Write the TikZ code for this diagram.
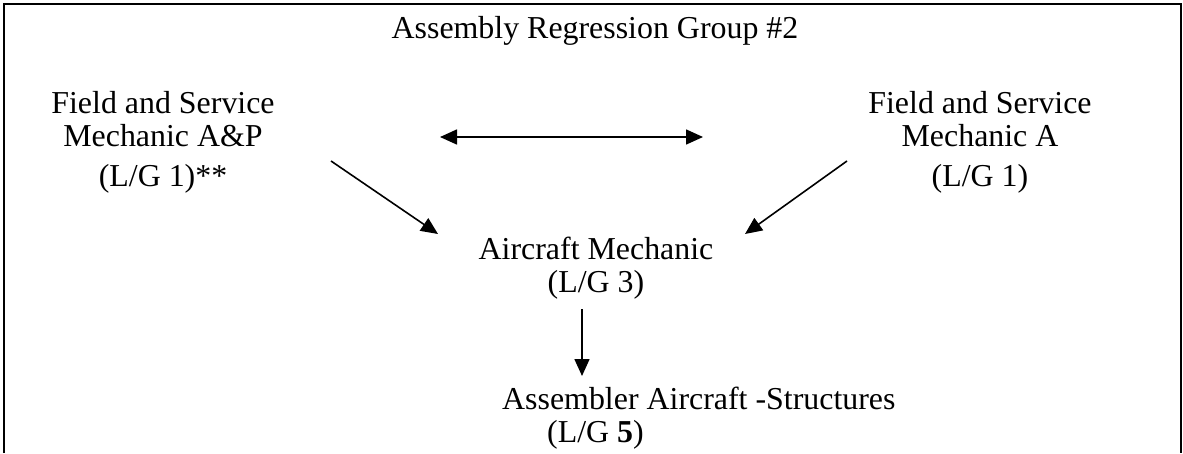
\documentclass[tikz,border=0pt]{standalone}
\usepackage{fontspec}
\setmainfont{Liberation Serif}
\usetikzlibrary{arrows.meta}
\begin{document}
\begin{tikzpicture}[x=1pt,y=-1pt,
  lbl/.style={inner sep=0pt,font=\fontsize{31.9}{33}\selectfont},
  tip/.style={-{Triangle[length=17pt,width=15pt]}},
  conn/.style={line width=1.6pt,tip},
  frame/.style={line width=2pt}]
\useasboundingbox (0,0) rectangle (1183,453);
\draw[frame] (4,453) -- (4,4) -- (1181,4) -- (1181,453);
\node[lbl,anchor=base] (title) at (595,38) {Assembly Regression Group \#2};
\node[lbl,anchor=base,align=center] (fsap) at (163,186) {Field and Service\\Mechanic A\&P\\[7pt](L/G 1)**};
\node[lbl,anchor=base,align=center] (fsa) at (980,186) {Field and Service\\Mechanic A\\[7pt](L/G 1)};
\node[lbl,anchor=base,align=center] (am) at (596,292) {Aircraft Mechanic\\(L/G 3)};
\node[lbl,anchor=base west,align=left] (asm) at (502,442) {Assembler Aircraft -Structures\\\hspace*{45pt}(L/G \textbf{5})};
\coordinate (d1) at (440,137);
\coordinate (d2) at (703,137);
\coordinate (l1) at (331,161);
\coordinate (l2) at (438,234);
\coordinate (r1) at (847,161);
\coordinate (r2) at (745,234);
\coordinate (v1) at (582,309);
\coordinate (v2) at (582,376);
\draw[line width=1.6pt,{Triangle[length=17pt,width=15pt]}-{Triangle[length=17pt,width=15pt]}] (d1) -- (d2);
\draw[conn] (l1) -- (l2);
\draw[conn] (r1) -- (r2);
\draw[conn] (v1) -- (v2);
\end{tikzpicture}
\end{document}
